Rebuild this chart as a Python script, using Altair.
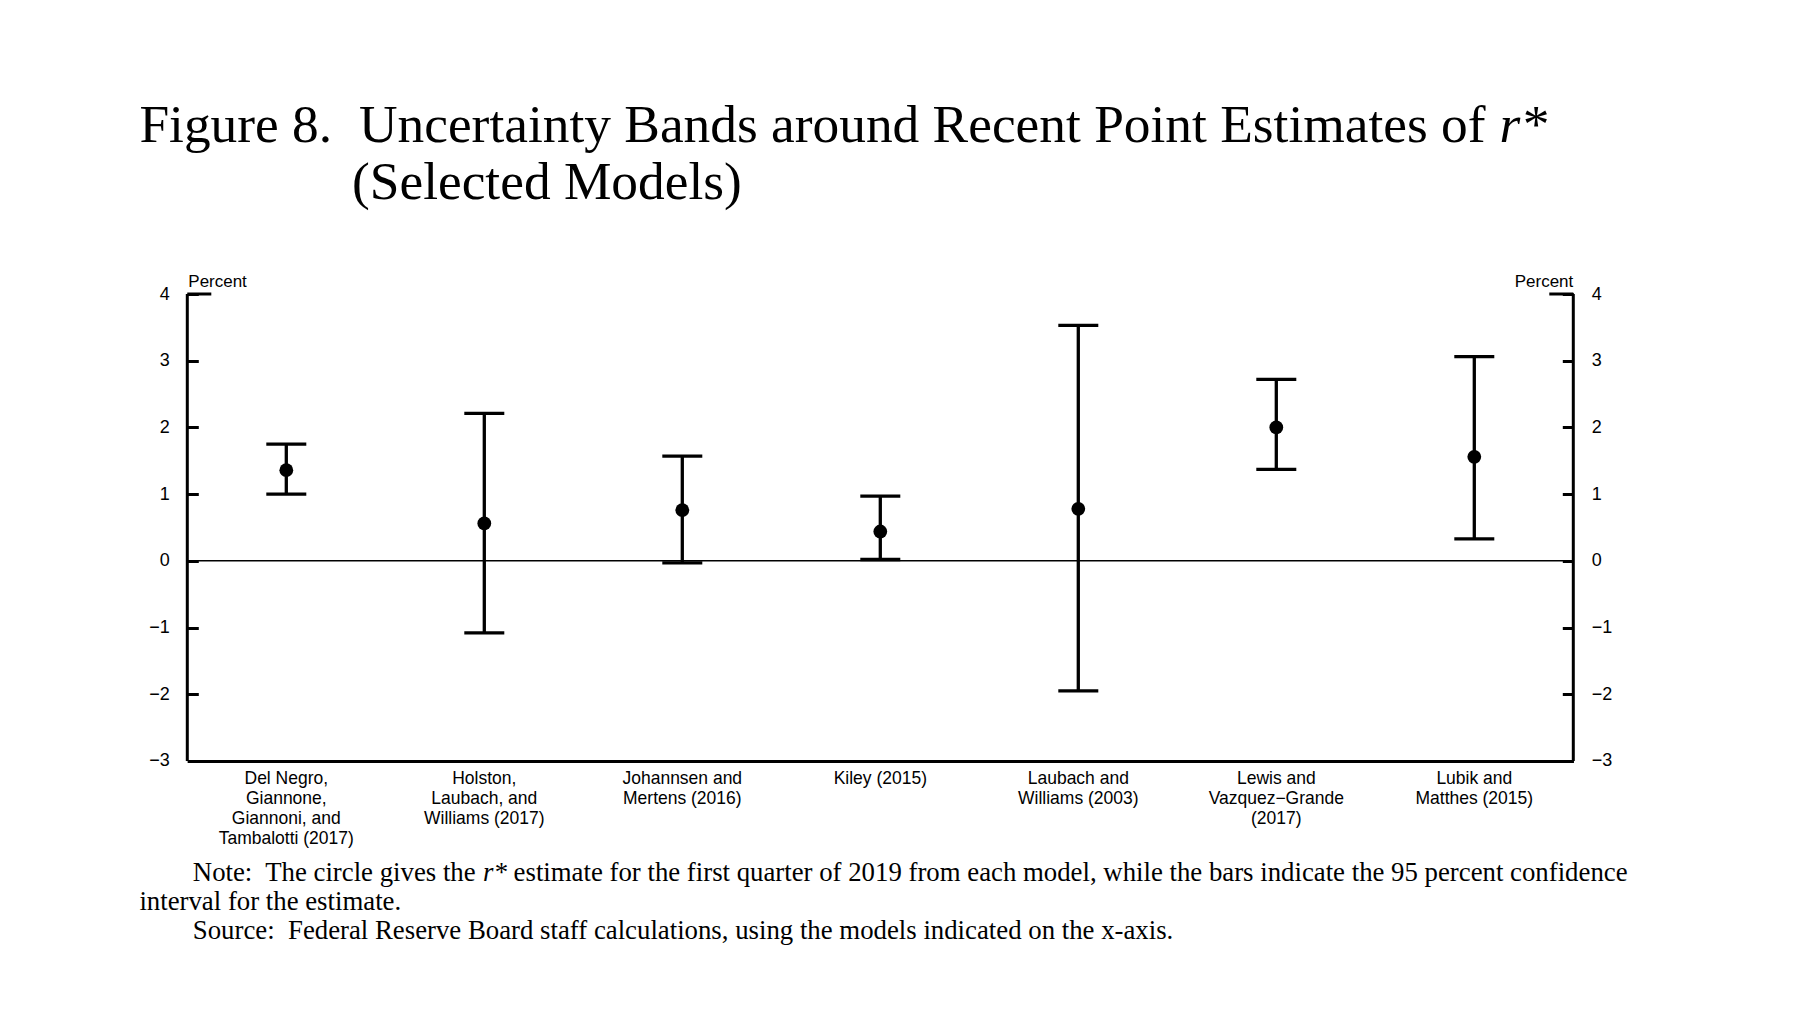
import altair as alt
import pandas as pd

# ---------------- data ----------------
models = [
    "Del Negro,\nGiannone,\nGiannoni, and\nTambalotti (2017)",
    "Holston,\nLaubach, and\nWilliams (2017)",
    "Johannsen and\nMertens (2016)",
    "Kiley (2015)",
    "Laubach and\nWilliams (2003)",
    "Lewis and\nVazquez\u2212Grande\n(2017)",
    "Lubik and\nMatthes (2015)",
]
estimate = [1.36, 0.56, 0.76, 0.44, 0.78, 2.00, 1.56]
lower = [1.00, -1.08, -0.03, 0.02, -1.95, 1.37, 0.33]
upper = [1.75, 2.21, 1.57, 0.97, 3.53, 2.72, 3.06]
y_ticks = [-3, -2, -1, 0, 1, 2, 3, 4]

title_fig = "Figure 8."
title_main = "Uncertainty Bands around Recent Point Estimates of"
title_italic = "r*"
title_line2 = "(Selected Models)"
note_a = "Note:\u00a0 The circle gives the"
note_italic = "r*"
note_b = ("estimate for the first quarter of 2019 from each model, "
          "while the bars indicate the 95 percent confidence")
note_line2 = "interval for the estimate."
source_line = ("Source:\u00a0 Federal Reserve Board staff calculations, "
               "using the models indicated on the x-axis.")

df = pd.DataFrame({"model": models, "estimate": estimate,
                   "lower": lower, "upper": upper})
one = pd.DataFrame({"k": [0]})

# ---------------- layout ----------------
W, H = 1386, 467
PAD_L, PAD_T = 179.3, 286

# Times/Liberation Serif advance widths (per 1000 em)
_tw = {" ": 250, "\u00a0": 250, ":": 278, ".": 250, ",": 250, "-": 333,
       "(": 333, ")": 333, "*": 500}
_tw.update({d: 500 for d in "0123456789"})
_tw.update(dict(zip("abcdefghijklmnopqrstuvwxyz",
                    [444, 500, 444, 500, 444, 333, 500, 500, 278, 278, 500, 278, 778,
                     500, 500, 500, 500, 333, 389, 278, 500, 500, 722, 500, 500, 444])))
_tw.update(dict(zip("ABCDEFGHIJKLMNOPQRSTUVWXYZ",
                    [722, 667, 667, 722, 611, 556, 722, 722, 333, 389, 722, 611, 889,
                     722, 722, 556, 722, 667, 556, 611, 722, 722, 944, 722, 722, 611])))


def tw(s, size):
    return sum(_tw.get(c, 500) for c in s) / 1000.0 * size


SERIF = "Liberation Serif"
SANS = "Liberation Sans"
T_SIZE = 53.4
N_SIZE = 26.8

x_enc = alt.X(
    "model:N", sort=models, scale=alt.Scale(domain=models), title=None,
    axis=alt.Axis(orient="bottom", domain=True, domainColor="black", domainWidth=3,
                  ticks=False, grid=False, labelAngle=0, labelAlign="center",
                  labelBaseline="top", labelPadding=9, labelFont=SANS,
                  labelFontSize=17.5, labelLineHeight=19.7, labelColor="black",
                  labelLimit=400, labelOverlap=False,
                  labelExpr="split(datum.label, '\\n')"))

yscale = alt.Scale(domain=[-3, 4], nice=False, zero=False)


def yaxis(orient):
    return alt.Axis(orient=orient, values=y_ticks, offset=-11, tickSize=11,
                    tickWidth=3, tickColor="black", domain=False, grid=False,
                    labelPadding=18, labelFont=SANS, labelFontSize=18,
                    labelColor="black", title=None)


base = alt.Chart(df)

bars = base.mark_rule(color="black", strokeWidth=3.3).encode(
    x=x_enc,
    y=alt.Y("lower:Q", scale=yscale, axis=yaxis("left")),
    y2="upper:Q",
)
points = base.mark_circle(color="black", opacity=1, size=190).encode(
    x=x_enc,
    y=alt.Y("estimate:Q", scale=yscale, axis=yaxis("right")),
)
cap_lo = base.mark_tick(color="black", thickness=3.3, size=40, opacity=1).encode(
    x=x_enc, y=alt.Y("lower:Q", scale=yscale, axis=None))
cap_hi = base.mark_tick(color="black", thickness=3.3, size=40, opacity=1).encode(
    x=x_enc, y=alt.Y("upper:Q", scale=yscale, axis=None))

zero = alt.Chart(one).mark_rule(color="black", strokeWidth=1.5).encode(
    y=alt.Y(datum=0, type="quantitative", scale=yscale, axis=None))

frame_l = alt.Chart(one).mark_rule(color="black", strokeWidth=3).encode(
    x=alt.value(0),
    y=alt.Y(datum=4, type="quantitative", scale=yscale, axis=None),
    y2=alt.Y2(datum=-3))
frame_r = alt.Chart(one).mark_rule(color="black", strokeWidth=3).encode(
    x=alt.value(W),
    y=alt.Y(datum=4, type="quantitative", scale=yscale, axis=None),
    y2=alt.Y2(datum=-3))
top_l = alt.Chart(one).mark_rule(color="black", strokeWidth=3).encode(
    x=alt.value(0), x2=alt.value(24),
    y=alt.Y(datum=4, type="quantitative", scale=yscale, axis=None))
top_r = alt.Chart(one).mark_rule(color="black", strokeWidth=3).encode(
    x=alt.value(W - 24), x2=alt.value(W),
    y=alt.Y(datum=4, type="quantitative", scale=yscale, axis=None))


def txt(text, x, y, size, font=SANS, align="left", style="normal"):
    return alt.Chart(one).mark_text(
        text=text, align=align, baseline="alphabetic", font=font,
        fontSize=size, fontStyle=style, color="black").encode(
        x=alt.value(x), y=alt.value(y))


# title
tx1 = 139.4 - 187.3
tx2 = 359.0 - 187.3
ty1 = 141.7 - 294
ty2 = 199.0 - 294
texts = [
    txt(title_fig, tx1, ty1, T_SIZE, SERIF),
    txt(title_main, tx2, ty1, T_SIZE, SERIF),
    txt(title_italic, tx2 + tw(title_main + " ", T_SIZE), ty1, T_SIZE, SERIF,
        style="italic"),
    txt(title_line2, 352.0 - 187.3, ty2, T_SIZE, SERIF),
    # axis unit labels
    txt("Percent", 1, -7.3, 17),
    txt("Percent", W, -7.3, 17, align="right"),
]
# notes
nx = 192.8 - 187.3
ny1 = 881.4 - 294
ny2 = ny1 + 29
ny3 = ny1 + 58
r_x = nx + tw(note_a + " ", N_SIZE)
b_x = r_x + (389 + 500) / 1000.0 * N_SIZE + tw(" ", N_SIZE)
texts += [
    txt(note_a, nx, ny1, N_SIZE, SERIF),
    txt(note_italic, r_x, ny1, N_SIZE, SERIF, style="italic"),
    txt(note_b, b_x, ny1, N_SIZE, SERIF),
    txt(note_line2, 139.4 - 187.3, ny2, N_SIZE, SERIF),
    txt(source_line, nx, ny3, N_SIZE, SERIF),
]

chart = alt.layer(
    zero, bars, cap_lo, cap_hi, points, frame_l, frame_r, top_l, top_r, *texts
).resolve_axis(y="independent").properties(
    width=W, height=H,
    autosize=alt.AutoSizeParams(type="none"),
    padding={"left": PAD_L, "top": PAD_T, "right": 220, "bottom": 200},
    background="white",
).configure_view(stroke=None)

chart.save("out.html", embed_options={"renderer": "svg", "actions": False})
